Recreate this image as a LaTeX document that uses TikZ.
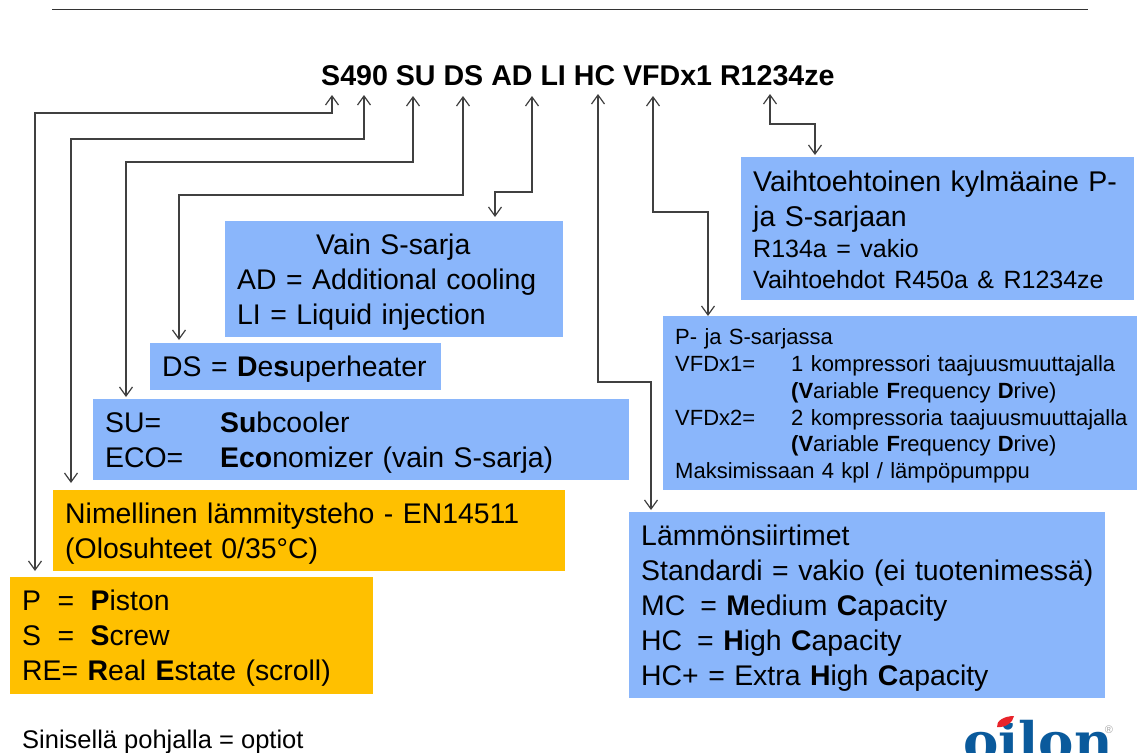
\documentclass[tikz,border=0pt]{standalone}
\usepackage{fontspec}
\setmainfont{Liberation Sans}
\newfontfamily\logofont{DejaVu Serif}
\usetikzlibrary{arrows.meta}
\definecolor{optblue}{HTML}{8AB6FB}
\definecolor{stdorange}{HTML}{FFC000}
\definecolor{connline}{HTML}{404040}
\definecolor{logoblue}{HTML}{0A5A9C}
\definecolor{logored}{HTML}{E8232A}
\tikzset{
  x=1pt,y=-1pt,
  panel/.style={anchor=north west,inner xsep=12pt,inner ysep=0pt,align=left,text=black},
  optbox/.style={panel,fill=optblue},
  stdbox/.style={panel,fill=stdorange},
  topstrut/.style={execute at begin node={\rule{0pt}{#1}}},
  bigtxt/.style={topstrut=26pt,font=\fontsize{28.4}{35}\selectfont},
  conn/.style={draw=connline,line width=1.2pt,{Straight Barb[length=9pt,width=13pt,line width=1.2pt]}-{Straight Barb[length=9pt,width=13pt,line width=1.2pt]}},
}
\begin{document}
\begin{tikzpicture}
\useasboundingbox (0,0) rectangle (1137,752);
\coordinate (ruleL) at (52,10);
\coordinate (ruleR) at (1088,10);
\draw[line width=1pt,draw=black!80] (ruleL) -- (ruleR);

\node[anchor=base west,inner sep=0pt,font=\fontsize{28.6}{30}\selectfont\bfseries] (title) at (321,85) {S490 SU DS AD LI HC VFDx1 R1234ze};

\node[optbox,text width=369pt,minimum height=143pt,topstrut=23pt,font=\fontsize{28.5}{31}\selectfont] (kylma) at (741,157)
 {Vaihtoehtoinen kylmäaine P-\\[4pt] ja S-sarjaan\\[0pt]\fontsize{25}{31}\selectfont R134a = vakio\\ Vaihtoehdot R450a \& R1234ze};
\node[optbox,text width=450pt,minimum height=174pt,topstrut=21.5pt,font=\fontsize{22}{26.8}\selectfont] (vfd) at (663,316)
 {P- ja S-sarjassa\\
  \makebox[116pt][l]{VFDx1=}1 kompressori taajuusmuuttajalla\\
  \makebox[116pt][l]{}\textbf{(V}ariable \textbf{F}requency \textbf{D}rive)\\
  \makebox[450pt][l]{\makebox[116pt][l]{VFDx2=}2 kompressoria taajuusmuuttajalla}\\
  \makebox[116pt][l]{}\textbf{(V}ariable \textbf{F}requency \textbf{D}rive)\\
  Maksimissaan 4 kpl / lämpöpumppu};
\node[optbox,text width=452pt,minimum height=186pt,topstrut=26pt,font=\fontsize{28.4}{35}\selectfont] (lammon) at (629,512)
 {Lämmönsiirtimet\\ \makebox[452pt][l]{Standardi = vakio (ei tuotenimessä)}\\ MC\hspace{15pt}= \textbf{M}edium \textbf{C}apacity\\ HC\hspace{15pt}= \textbf{H}igh \textbf{C}apacity\\ HC+ = Extra \textbf{H}igh \textbf{C}apacity};
\node[optbox,text width=314pt,minimum height=116pt,bigtxt] (vain) at (225,221)
 {\hspace*{79pt}Vain S-sarja\\ AD = Additional cooling\\ LI = Liquid injection};
\node[optbox,text width=267pt,minimum height=47pt,bigtxt] (ds) at (150,343)
 {DS = \textbf{D}e\textbf{s}uperheater};
\node[optbox,text width=512pt,minimum height=81pt,bigtxt] (su) at (93,399)
 {\makebox[115pt][l]{SU=}\textbf{Su}bcooler\\ \makebox[115pt][l]{ECO=}\textbf{Eco}nomizer (vain S-sarja)};
\node[stdbox,text width=488pt,minimum height=81pt,bigtxt] (teho) at (53,490)
 {Nimellinen lämmitysteho - EN14511\\ (Olosuhteet 0/35°C)};
\node[stdbox,text width=339pt,minimum height=117pt,bigtxt] (tyyppi) at (10,577)
 {P\hspace{16.5pt}=\hspace{16.5pt}\textbf{P}iston\\ S\hspace{16.5pt}=\hspace{16.5pt}\textbf{S}crew\\ RE= \textbf{R}eal \textbf{E}state (scroll)};

% connector ends under the title letters
\coordinate (tS) at (332,95);
\coordinate (t490) at (364,95);
\coordinate (tSU) at (413,96);
\coordinate (tDS) at (463,96);
\coordinate (tAD) at (532,96);
\coordinate (tHC) at (598,94);
\coordinate (tVFD) at (653,96);
\coordinate (tR) at (770,94);
\coordinate (eTyyppi) at (35,571);
\coordinate (eTeho) at (71,483);
\coordinate (eSu) at (126,397);
\coordinate (eDs) at (179,340);
\coordinate (eVain) at (495,217);
\coordinate (eLammon) at (651,510);
\coordinate (eVfd) at (708,316);
\coordinate (eKylma) at (815,155);

\draw[conn] (tS) -- (tS |- 0,113) -- (eTyyppi |- 0,113) -- (eTyyppi);
\draw[conn] (t490) -- (t490 |- 0,139) -- (eTeho |- 0,139) -- (eTeho);
\draw[conn] (tSU) -- (tSU |- 0,162) -- (eSu |- 0,162) -- (eSu);
\draw[conn] (tDS) -- (tDS |- 0,195) -- (eDs |- 0,195) -- (eDs);
\draw[conn] (tAD) -- (tAD |- 0,192) -- (eVain |- 0,192) -- (eVain);
\draw[conn] (tHC) -- (tHC |- 0,382) -- (eLammon |- 0,382) -- (eLammon);
\draw[conn] (tVFD) -- (tVFD |- 0,212) -- (eVfd |- 0,212) -- (eVfd);
\draw[conn] (tR) -- (tR |- 0,124) -- (eKylma |- 0,124) -- (eKylma);

\node[anchor=base west,inner sep=0pt,font=\fontsize{25.5}{28}\selectfont] (note) at (22,748) {Sinisellä pohjalla = optiot};

\begin{scope}
\clip (900,700) rectangle (1137,752);
\node[anchor=base west,inner sep=0pt,text=logoblue,font=\fontsize{53}{56}\logofont\bfseries] (logo) at (963,760) {oilon};
\fill[white] (994,712) rectangle (1018,723);
\fill[logored] (997,727) .. controls (996,721) and (1004,716) .. (1014,716) .. controls (1013,722) and (1006,728) .. cycle;
\node[anchor=center,inner sep=0pt,text=black!35,font=\fontsize{11}{12}\selectfont] (reg) at (1109,730) {®};
\end{scope}
\end{tikzpicture}
\end{document}
